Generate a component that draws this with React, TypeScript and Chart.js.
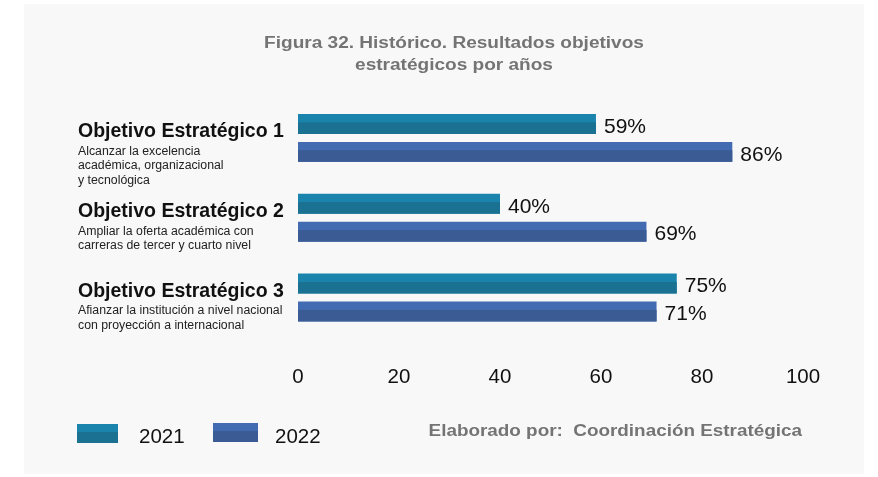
import React, { useEffect, useRef } from "react";
import { Chart, registerables } from "chart.js";

Chart.register(...registerables);

const categories = ["Objetivo Estratégico 1", "Objetivo Estratégico 2", "Objetivo Estratégico 3"];
const descriptions = [
  ["Alcanzar la excelencia", "académica, organizacional", "y tecnológica"],
  ["Ampliar la oferta académica con", "carreras de tercer y cuarto nivel"],
  ["Afianzar la institución a nivel nacional", "con proyección a internacional"],
];
const seriesNames = ["2021", "2022"];
const values2021 = [59, 40, 75];
const values2022 = [86, 69, 71];
const xTicks = [0, 20, 40, 60, 80, 100];
const titleLines = ["Figura 32. Histórico. Resultados objetivos", "estratégicos por años"];
const footerText = "Elaborado por:  Coordinación Estratégica";

const topColors = ["#1a84ad", "#426bb2"];
const bottomColors = ["#1b7191", "#3a5b94"];
const FONT = "'Liberation Sans', Arial, sans-serif";

function drawText(ctx: any, text: string, x: number, y: number, sx: number, align: string) {
  ctx.save();
  ctx.translate(x, y);
  ctx.scale(sx, 1);
  ctx.textAlign = align;
  ctx.textBaseline = "middle";
  ctx.fillText(text, 0, 0);
  ctx.restore();
}

const decorPlugin = {
  id: "decor",
  beforeDraw(chart: any) {
    const { ctx, width, height } = chart;
    ctx.save();
    ctx.fillStyle = "#ffffff";
    ctx.fillRect(0, 0, width, height);
    ctx.fillStyle = "#f8f8f8";
    ctx.fillRect(24, 4, 840, 470);
    ctx.restore();
  },
  afterDatasetsDraw(chart: any) {
    const { ctx } = chart;
    ctx.save();
    // two-tone bars: darker lower part + value labels
    chart.data.datasets.forEach((ds: any, di: number) => {
      const meta = chart.getDatasetMeta(di);
      meta.data.forEach((bar: any, i: number) => {
        const h = bar.height;
        const top = bar.y - h / 2;
        const x0 = Math.min(bar.base, bar.x);
        const w = Math.abs(bar.x - bar.base);
        ctx.fillStyle = bottomColors[di];
        ctx.fillRect(x0, top + h * 0.42, w, h * 0.58);
        ctx.fillStyle = "#111111";
        ctx.font = `21px ${FONT}`;
        drawText(ctx, ds.data[i] + "%", bar.x + 8, bar.y + 3, 1, "left");
      });
    });
    // category labels
    const yScale = chart.scales.y;
    categories.forEach((cat, i) => {
      const cy = yScale.getPixelForValue(i);
      ctx.fillStyle = "#111111";
      ctx.font = `bold 19.5px ${FONT}`;
      drawText(ctx, cat, 78, cy - 6, 1, "left");
      ctx.fillStyle = "#222222";
      ctx.font = `12.3px ${FONT}`;
      descriptions[i].forEach((line, j) => {
        drawText(ctx, line, 78, cy + 13.5 + j * 14.5, 1, "left");
      });
    });
    // title
    ctx.fillStyle = "#747474";
    ctx.font = `bold 16px ${FONT}`;
    titleLines.forEach((line, j) => {
      drawText(ctx, line, 454, 44 + j * 22, 1.19, "center");
    });
    // legend
    const legendBoxes = [
      { x: 77, y: 424, w: 41, h: 19, tx: 139 },
      { x: 213, y: 423, w: 45, h: 19, tx: 275 },
    ];
    seriesNames.forEach((name, k) => {
      const b = legendBoxes[k];
      ctx.fillStyle = topColors[k];
      ctx.fillRect(b.x, b.y, b.w, b.h);
      ctx.fillStyle = bottomColors[k];
      ctx.fillRect(b.x, b.y + b.h * 0.42, b.w, b.h * 0.58);
      ctx.fillStyle = "#111111";
      ctx.font = `20.5px ${FONT}`;
      drawText(ctx, name, b.tx, 437, 1, "left");
    });
    // footer
    ctx.fillStyle = "#747474";
    ctx.font = `bold 16px ${FONT}`;
    drawText(ctx, footerText, 802, 432, 1.18, "right");
    ctx.restore();
  },
};

export default function App() {
  const ref = useRef<HTMLCanvasElement | null>(null);
  useEffect(() => {
    document.body.style.margin = "0";
    const canvas = ref.current;
    if (!canvas) return;
    const chart = new Chart(canvas, {
      type: "bar",
      data: {
        labels: categories,
        datasets: [
          { label: seriesNames[0], data: values2021, backgroundColor: topColors[0] },
          { label: seriesNames[1], data: values2022, backgroundColor: topColors[1] },
        ],
      },
      options: {
        indexAxis: "y",
        responsive: false,
        animation: false,
        devicePixelRatio: 1,
        categoryPercentage: 0.7,
        barPercentage: 0.714,
        layout: { padding: { left: 298, right: 75, top: 98, bottom: 59 } },
        plugins: {
          legend: { display: false },
          tooltip: { enabled: false },
          title: { display: false },
        },
        scales: {
          y: {
            display: true,
            grid: { display: false, drawTicks: false },
            border: { display: false },
            ticks: { display: false },
          },
          x: {
            min: 0,
            max: 100,
            afterBuildTicks: (scale: any) => {
              scale.ticks = xTicks.map((v) => ({ value: v }));
            },
            grid: { display: false, drawTicks: false },
            border: { display: false },
            ticks: {
              padding: 28,
              color: "#111111",
              font: { size: 20.5, family: FONT },
            },
          },
        },
      },
      plugins: [decorPlugin],
    });
    return () => chart.destroy();
  }, []);
  return <canvas ref={ref} width={878} height={477} style={{ display: "block" }} />;
}
